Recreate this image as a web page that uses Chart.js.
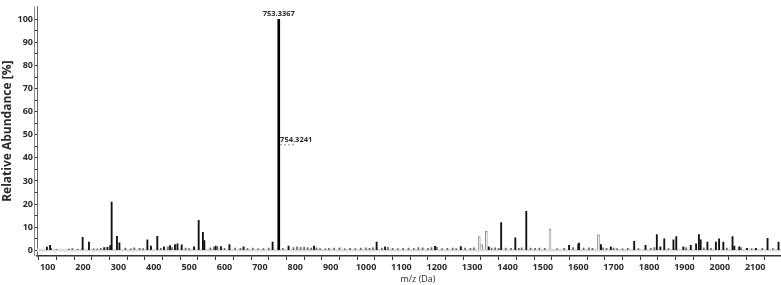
<!DOCTYPE html>
<html>
<head>
<meta charset="utf-8">
<script src="https://cdn.jsdelivr.net/npm/chart.js@4.4.1/dist/chart.umd.min.js"></script>
<style>
  html, body { margin: 0; padding: 0; background: #ffffff; }
  #wrap { width: 781px; height: 285px; position: relative; }
</style>
</head>
<body>
<div id="wrap"><canvas id="spec"></canvas></div>
<script>
//================================ DADES

// pics principals (negre): m/z i abundància relativa [%]
const mainMz = [753.3367];
const mainAb = [100];

const blackMz = [754.3241, 98, 107, 199, 217, 260, 269, 277, 281, 296, 303, 382, 392, 410, 429, 446, 460, 467, 479,
  514, 527, 539, 543, 575, 590, 614, 654, 736, 781, 853, 1030, 1054, 1195, 1268, 1347, 1382, 1422, 1453,
  1574, 1600, 1602, 1664, 1692, 1758, 1790, 1822, 1832, 1843, 1869, 1877, 1897, 1918, 1933, 1941, 1946,
  1965, 1989, 1998, 2010, 2036, 2041, 2055, 2077, 2102, 2135, 2166];
const blackAb = [45, 1.4, 2.1, 5.6, 3.5, 1.2, 1.3, 2.0, 20.8, 6.0, 3.2, 4.5, 1.8, 6.0, 1.5, 2.0, 2.5, 2.8, 2.3,
  1.5, 13.0, 7.7, 4.2, 1.8, 1.6, 2.4, 1.5, 3.5, 1.8, 1.8, 3.5, 1.5, 1.7, 1.6, 1.5, 12.0, 5.4, 16.9,
  2.1, 2.7, 3.1, 2.5, 1.5, 3.8, 2.1, 6.8, 1.5, 4.9, 4.5, 5.9, 1.5, 2.1, 2.8, 6.8, 4.5,
  3.5, 3.5, 4.9, 3.5, 5.9, 1.8, 1.5, 0.8, 0.8, 5.2, 3.5];

// pics grisos
const greyMz = [1320, 1327, 1340, 1520, 1657];
const greyAb = [5.9, 2.5, 8.2, 9.2, 6.8];

// soroll petit
const noiseMz = [110, 125, 160, 170, 185, 230, 240, 250, 320, 335, 345, 360, 370, 420, 440, 452, 490, 500,
  560, 570, 580, 600, 630, 645, 665, 680, 695, 710, 725, 765, 795, 805, 815, 825, 835, 845, 860, 870,
  885, 895, 910, 925, 940, 955, 970, 985, 1000, 1010, 1020, 1045, 1062, 1075, 1090, 1105, 1120, 1135,
  1148, 1160, 1175, 1185, 1200, 1215, 1230, 1245, 1255, 1280, 1295, 1305, 1355, 1365, 1375, 1395, 1410,
  1432, 1440, 1465, 1478, 1490, 1505, 1540, 1560, 1585, 1615, 1630, 1640, 1670, 1680, 1700, 1710, 1725,
  1740, 1770, 1805, 1815, 1855, 1905, 1955, 1975, 2020, 2060, 2090, 2120, 2150];
const noiseAb = [0.8, 0.4, 0.5, 0.7, 0.4, 0.6, 0.5, 0.8, 0.9, 0.6, 1.0, 0.8, 0.7, 0.8, 1.5, 1.2, 0.9, 0.7,
  1.0, 1.4, 1.6, 0.8, 0.9, 0.8, 0.7, 0.9, 0.6, 0.7, 0.9, 0.8, 1.1, 1.5, 1.3, 1.4, 1.2, 0.9, 1.0, 0.7,
  0.6, 0.8, 0.9, 1.0, 0.6, 0.8, 0.7, 0.9, 1.0, 0.8, 1.2, 0.9, 1.3, 0.8, 0.7, 0.8, 0.9, 0.7,
  1.2, 1.0, 0.8, 1.2, 1.4, 0.7, 0.8, 0.9, 0.7, 0.9, 0.8, 1.0, 0.9, 1.0, 0.8, 0.9, 0.8,
  0.8, 1.0, 0.9, 0.8, 0.9, 0.8, 0.6, 0.8, 1.1, 0.9, 1.0, 0.8, 1.0, 0.8, 0.9, 0.7, 0.6,
  0.8, 0.7, 0.8, 1.2, 0.7, 1.1, 1.0, 0.8, 0.9, 1.2, 0.7, 0.8, 0.7];

// banda gris de la línia base
const bandMz = [70, 2173];
const bandAb = [0.6, 0.6];

// eixos
const xMin = 70;
const xMax = 2173;
const xTickValues = [100, 150, 200, 250, 300, 350, 400, 450, 500, 550, 600, 650, 700, 750, 800, 850, 900, 950,
  1000, 1050, 1100, 1150, 1200, 1250, 1300, 1350, 1400, 1450, 1500, 1550, 1600, 1650, 1700, 1750, 1800, 1850,
  1900, 1950, 2000, 2050, 2100, 2150];
const yMin = -2.5;
const yMax = 105.6;
const yTickValues = [0, 5, 10, 15, 20, 25, 30, 35, 40, 45, 50, 55, 60, 65, 70, 75, 80, 85, 90, 95, 100];

// etiquetes de pics
const peakLabels = ['753.3367', '754.3241'];

//================================ CONSTRUCCIÓ

function toPoints (xs, ys) {
  const out = [];
  for (let i = 0; i < xs.length; i++) {
    out.push({ x: xs[i], y: ys[i] });
  }
  return out;
}

const tickFont = { family: '"Open Sans", sans-serif', size: 9, weight: 'bold' };
const inkColor = '#2a2a2a';

const labelPlugin = {
  id: 'peakLabels',
  afterDraw (chart) {
    const ctx = chart.ctx;
    const xs = chart.scales.x;
    const ys = chart.scales.y;
    const area = chart.chartArea;
    ctx.save();

    // segona línia de l'eix y (doble)
    ctx.strokeStyle = '#8a8a8a';
    ctx.lineWidth = 1;
    ctx.beginPath();
    ctx.moveTo(area.left - 2.5, area.top);
    ctx.lineTo(area.left - 2.5, area.bottom);
    ctx.stroke();

    ctx.fillStyle = inkColor;
    ctx.font = 'bold 7.5px "Open Sans", sans-serif';
    ctx.textBaseline = 'bottom';
    ctx.textAlign = 'center';
    ctx.fillText(peakLabels[0], xs.getPixelForValue(mainMz[0]), ys.getPixelForValue(mainAb[0]) - 2);

    const px = xs.getPixelForValue(blackMz[0]);
    const py = ys.getPixelForValue(blackAb[0]);
    ctx.textAlign = 'left';
    ctx.fillText(peakLabels[1], px + 1, py - 3);
    ctx.strokeStyle = '#888';
    ctx.setLineDash([2, 2]);
    ctx.beginPath();
    ctx.moveTo(px + 1, py - 1.5);
    ctx.lineTo(px + 16, py - 1.5);
    ctx.stroke();
    ctx.setLineDash([]);

    // títol de l'eix x
    ctx.font = '9px "Open Sans", sans-serif';
    ctx.textAlign = 'center';
    ctx.textBaseline = 'middle';
    ctx.fillText('m/z (Da)', 418, 279);
    ctx.restore();
  },
};

new Chart(document.getElementById('spec'), {
  type: 'bar',
  data: {
    datasets: [
      {
        type: 'line',
        data: toPoints(bandMz, bandAb),
        borderWidth: 0,
        pointRadius: 0,
        backgroundColor: '#dedede',
        fill: { value: -0.6 },
        order: 5,
      },
      {
        data: toPoints(noiseMz, noiseAb),
        backgroundColor: '#666666',
        barThickness: 1,
        order: 4,
      },
      {
        data: toPoints(greyMz, greyAb),
        backgroundColor: '#ffffff',
        borderColor: '#8a8a8a',
        borderWidth: 1,
        barThickness: 2,
        order: 3,
      },
      {
        data: toPoints(blackMz, blackAb),
        backgroundColor: '#111111',
        barThickness: 1.2,
        order: 2,
      },
      {
        data: toPoints(mainMz, mainAb),
        backgroundColor: '#000000',
        barThickness: 2,
        order: 1,
      },
    ],
  },
  options: {
    responsive: true,
    maintainAspectRatio: false,
    animation: false,
    layout: { padding: 0 },
    datasets: { bar: { grouped: false } },
    plugins: {
      legend: { display: false },
      tooltip: { enabled: false },
    },
    scales: {
      x: {
        type: 'linear',
        offset: false,
        min: xMin,
        max: xMax,
        afterBuildTicks (axis) {
          const t = [];
          for (let i = 0; i < xTickValues.length; i++) {
            t.push({ value: xTickValues[i] });
          }
          axis.ticks = t;
        },
        afterFit (axis) { axis.height = 29; },
        ticks: {
          autoSkip: false,
          maxRotation: 0,
          padding: 2,
          color: inkColor,
          font: tickFont,
          callback (v) { return v % 100 === 0 ? String(v) : ''; },
        },
        grid: { display: true, drawOnChartArea: false, drawTicks: true, tickLength: 4, color: '#333' },
        border: { display: true, color: '#333', width: 1.5 },
      },
      y: {
        type: 'linear',
        min: yMin,
        max: yMax,
        afterBuildTicks (axis) {
          const t = [];
          for (let i = 0; i < yTickValues.length; i++) {
            t.push({ value: yTickValues[i] });
          }
          axis.ticks = t;
        },
        afterFit (axis) { axis.width = 37; },
        title: {
          display: true,
          text: 'Relative Abundance [%]',
          color: inkColor,
          font: { family: '"Open Sans", sans-serif', size: 12, weight: 'bold' },
          padding: { top: 0, bottom: 0 },
        },
        ticks: {
          autoSkip: false,
          padding: 1,
          color: inkColor,
          font: tickFont,
          callback (v) { return v % 10 === 0 ? String(v) : ''; },
        },
        grid: { display: true, drawOnChartArea: false, drawTicks: true, tickLength: 3, color: '#333' },
        border: { display: true, color: '#666', width: 1 },
      },
    },
  },
  plugins: [labelPlugin],
});
</script>
</body>
</html>
